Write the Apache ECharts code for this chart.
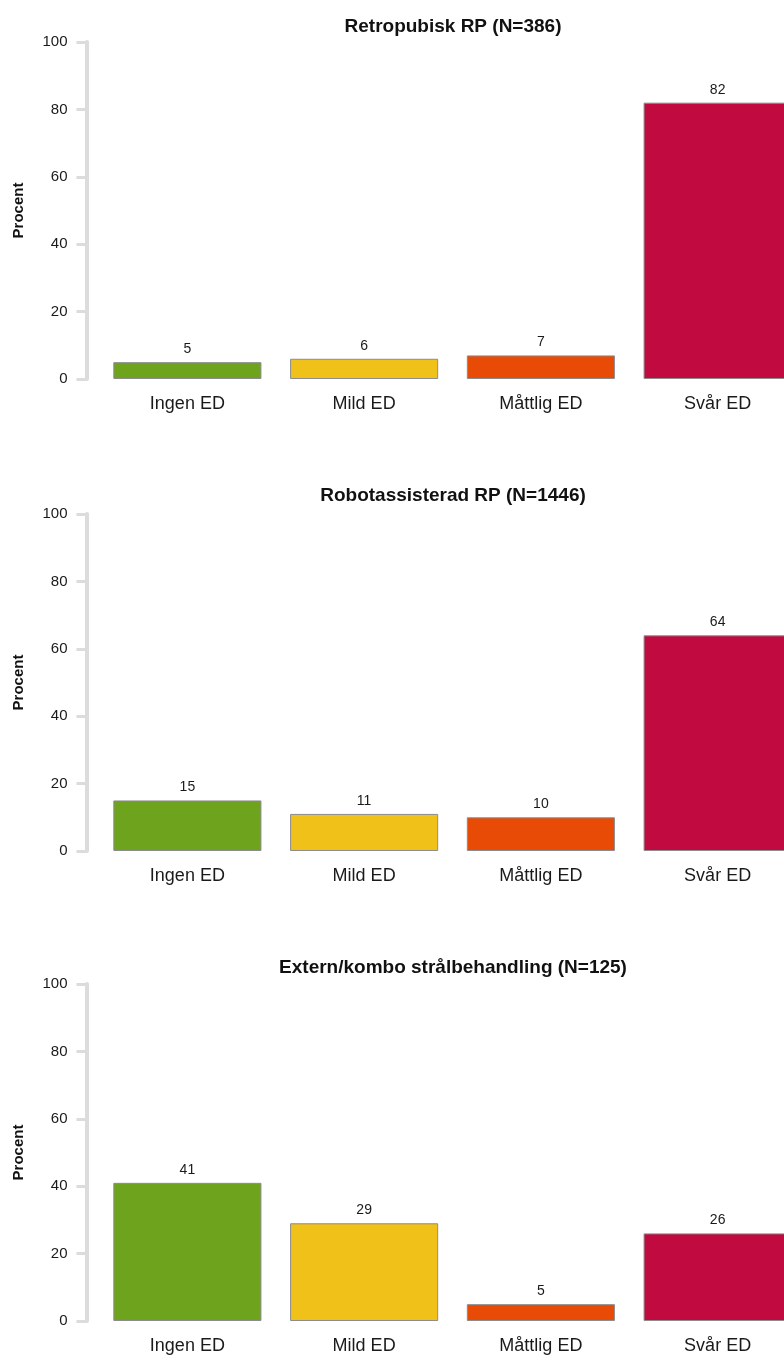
<!DOCTYPE html>
<html>
<head>
<meta charset="utf-8">
<script src="https://cdn.jsdelivr.net/npm/echarts@6/dist/echarts.min.js"></script>
<style>
  html, body { margin: 0; padding: 0; background: #ffffff; overflow: hidden; }
  /* the last column runs past the right edge of the page */
  #chart { width: 806px; height: 1360px; }
</style>
</head>
<body>
<div id="chart"></div>
<script>
// Erectile dysfunction after treatment, share of patients (%)
const categories = ['Ingen ED', 'Mild ED', 'Måttlig ED', 'Svår ED'];
const panelTitles = [
  'Retropubisk RP (N=386)',
  'Robotassisterad RP (N=1446)',
  'Extern/kombo strålbehandling (N=125)'
];
const retropubiskValues = [5, 6, 7, 82];
const robotValues = [15, 11, 10, 64];
const externValues = [41, 29, 5, 26];
const yTicks = [0, 20, 40, 60, 80, 100];
const barColors = ['#6ea31e', '#f0c118', '#e74b05', '#c10a40'];

const panelData = [retropubiskValues, robotValues, externValues];
const gridTops = [42, 514, 984];
const titleTops = [12, 481, 953];
const gridHeight = 337;
const FONT = '"Liberation Sans", Arial, sans-serif';
const AXIS_GREY = '#dcdcdc';

const chart = echarts.init(document.getElementById('chart'), null, { renderer: 'canvas' });

const option = {
  backgroundColor: '#ffffff',
  animation: false,
  title: panelTitles.map((t, i) => ({
    text: t,
    left: 448,
    top: titleTops[i],
    textAlign: 'center',
    textStyle: { fontFamily: FONT, fontSize: 19, fontWeight: 'bold', color: '#111' }
  })),
  grid: gridTops.map(top => ({ left: 99, right: 0, top: top, height: gridHeight })),
  xAxis: gridTops.map((_, i) => ({
    type: 'category',
    gridIndex: i,
    data: categories,
    axisLine: { show: false },
    axisTick: { show: false },
    axisLabel: { fontFamily: FONT, fontSize: 18, color: '#1a1a1a', margin: 16 },
    splitLine: { show: false }
  })),
  yAxis: gridTops.map((_, i) => ({
    type: 'value',
    gridIndex: i,
    min: yTicks[0],
    max: yTicks[yTicks.length - 1],
    interval: yTicks[1] - yTicks[0],
    offset: 12.5,
    name: 'Procent',
    nameLocation: 'middle',
    nameGap: 60,
    nameTextStyle: { fontFamily: FONT, fontSize: 15, fontWeight: 'bold', color: '#111' },
    axisLine: { show: true, lineStyle: { color: AXIS_GREY, width: 4 } },
    axisTick: { show: true, length: 10, lineStyle: { color: AXIS_GREY, width: 3 } },
    axisLabel: { fontFamily: FONT, fontSize: 15, color: '#1a1a1a', margin: 19 },
    splitLine: { show: false }
  })),
  series: panelData.map((vals, i) => ({
    type: 'bar',
    xAxisIndex: i,
    yAxisIndex: i,
    barWidth: '83.8%',
    data: vals.map((v, j) => ({
      value: v,
      itemStyle: { color: barColors[j] }
    })),
    itemStyle: { borderColor: '#8c8c8c', borderWidth: 1 },
    label: {
      show: true,
      position: 'top',
      distance: 6,
      fontFamily: FONT,
      fontSize: 14,
      color: '#1a1a1a'
    }
  }))
};

chart.setOption(option);
</script>
</body>
</html>
